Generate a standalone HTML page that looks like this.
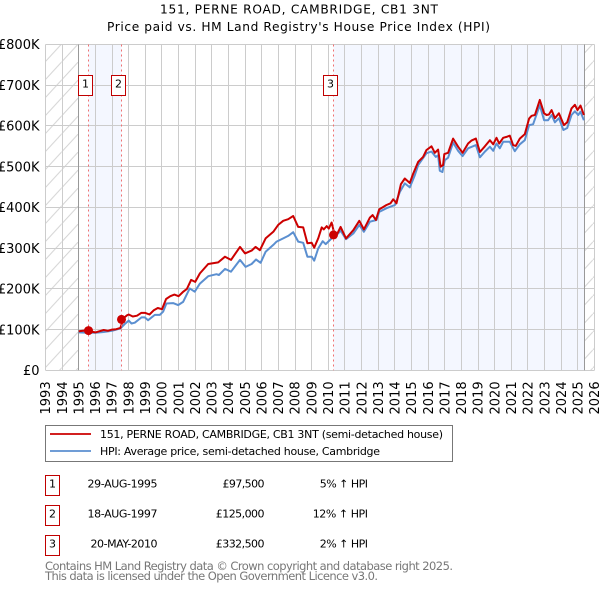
<!DOCTYPE html>
<html lang="en">
<head>
<meta charset="utf-8">
<title>151, Perne Road, Cambridge - Price paid vs. HPI</title>
<style>
html,body{margin:0;padding:0;background:#fff;}
body{width:600px;height:590px;overflow:hidden;}
svg{display:block;font-family:"DejaVu Sans",sans-serif;}
text{fill:#000;}
</style>
</head>
<body>
<svg id="chart" xmlns="http://www.w3.org/2000/svg" width="600" height="590" viewBox="0 0 600 590">
  <defs>
    <pattern id="hatch" patternUnits="userSpaceOnUse" x="45" y="44" width="16.6" height="18">
      <line x1="0" y1="18" x2="16.6" y2="0" stroke="#d4d4d4" stroke-width="1"/>
    </pattern>
  </defs>
  <g id="backgrounds"></g>
  <g id="grid"></g>
  <g id="series"></g>
  <g id="markers"></g>
  <g id="axes"></g>

  <text x="160" y="13.5" font-size="12.2" textLength="278">151, PERNE ROAD, CAMBRIDGE, CB1 3NT</text>
  <text x="107" y="31" font-size="12.2" textLength="383">Price paid vs. HM Land Registry's House Price Index (HPI)</text>

  <g>
    <rect x="45.5" y="425.5" width="407" height="36" fill="#fff" stroke="#777" stroke-width="1"/>
    <line x1="50" y1="434" x2="91" y2="434" stroke="#cc0000" stroke-width="1.8"/>
    <text x="100" y="438" font-size="11" textLength="343">151, PERNE ROAD, CAMBRIDGE, CB1 3NT (semi-detached house)</text>
    <line x1="50" y1="451" x2="91" y2="451" stroke="#5b8fd0" stroke-width="1.8"/>
    <text x="100" y="455" font-size="11" textLength="280">HPI: Average price, semi-detached house, Cambridge</text>
  </g>

  <g font-size="11">
    <g>
      <rect x="45.5" y="475.5" width="14" height="20" fill="#fff" stroke="#c00000"/>
      <text x="52.5" y="487.5" text-anchor="middle">1</text>
      <text x="157.5" y="487.5" text-anchor="end" textLength="70">29-AUG-1995</text>
      <text x="264.5" y="487.5" text-anchor="end" textLength="42">£97,500</text>
      <text x="368" y="487.5" text-anchor="end" textLength="48.3">5% ↑ HPI</text>
    </g>
    <g>
      <rect x="45.5" y="505.5" width="14" height="20" fill="#fff" stroke="#c00000"/>
      <text x="52.5" y="517.5" text-anchor="middle">2</text>
      <text x="157.5" y="517.5" text-anchor="end" textLength="70">18-AUG-1997</text>
      <text x="264.5" y="517.5" text-anchor="end" textLength="48.7">£125,000</text>
      <text x="368" y="517.5" text-anchor="end" textLength="55.3">12% ↑ HPI</text>
    </g>
    <g>
      <rect x="45.5" y="535.5" width="14" height="20" fill="#fff" stroke="#c00000"/>
      <text x="52.5" y="547.5" text-anchor="middle">3</text>
      <text x="157.5" y="547.5" text-anchor="end" textLength="67">20-MAY-2010</text>
      <text x="264.5" y="547.5" text-anchor="end" textLength="48.7">£332,500</text>
      <text x="368" y="547.5" text-anchor="end" textLength="48.3">2% ↑ HPI</text>
    </g>
  </g>

  <text x="45" y="570" font-size="11.5" style="fill:#777" textLength="408">Contains HM Land Registry data © Crown copyright and database right 2025.</text>
  <text x="45" y="580" font-size="11.5" style="fill:#777" textLength="333">This data is licensed under the Open Government Licence v3.0.</text>
</svg>
<script>
const yearTicks = [1993,1994,1995,1996,1997,1998,1999,2000,2001,2002,2003,2004,2005,2006,2007,2008,2009,2010,2011,2012,2013,2014,2015,2016,2017,2018,2019,2020,2021,2022,2023,2024,2025,2026];
const priceTicks = [0,100,200,300,400,500,600,700,800];
const priceTickLabels = ['£0','£100K','£200K','£300K','£400K','£500K','£600K','£700K','£800K'];

const priceDates = [1995,1995.25,1995.5,1995.75,1996,1996.25,1996.5,1996.75,1997,1997.25,1997.5,1997.63,1997.75,1997.9,1998,1998.25,1998.5,1998.75,1999,1999.25,1999.5,1999.75,2000,2000.25,2000.5,2000.75,2001,2001.25,2001.5,2001.75,2002,2002.28,2002.78,2003.38,2003.79,2004.15,2004.69,2004.99,2005.39,2005.63,2005.89,2006.23,2006.69,2006.99,2007.29,2007.59,2007.89,2008.19,2008.49,2008.74,2009,2009.15,2009.39,2009.6,2009.73,2009.9,2010.03,2010.2,2010.38,2010.5,2010.74,2011.06,2011.5,2011.86,2012.14,2012.5,2012.66,2012.86,2013.06,2013.5,2013.74,2013.9,2014.1,2014.36,2014.6,2014.9,2015.1,2015.4,2015.7,2015.9,2016.2,2016.4,2016.6,2016.75,2016.9,2016.97,2017.2,2017.5,2017.8,2018.07,2018.4,2018.6,2018.87,2019.11,2019.41,2019.71,2019.91,2020.11,2020.27,2020.51,2020.71,2020.91,2021.11,2021.27,2021.51,2021.81,2022.07,2022.22,2022.42,2022.71,2022.97,2023.12,2023.26,2023.42,2023.62,2023.86,2024.16,2024.36,2024.62,2024.82,2024.98,2025.16,2025.36];
const priceValues = [96,97,98,95,93,96,99,97,100,101,104,120,130,135,137,132,134,141,141,137,147,153,150,175,182,186,182,192,200,222,217,238,261,265,279,271,303,287,294,303,295,324,340,357,367,371,379,352,351,312,313,301,324,351,346,354,348,363,333,332,352,324,344,367,346,375,381,369,395,406,410,420,410,457,471,460,483,512,524,541,550,534,542,500,504,531,534,569,549,534,557,564,569,536,550,565,555,571,557,571,573,576,553,551,569,580,618,625,627,664,631,627,628,639,619,631,602,609,643,652,639,650,627];

const hpiDates = [1995,1995.5,1996,1996.5,1997,1997.5,1997.75,1998,1998.17,1998.37,1998.77,1998.97,1999.17,1999.57,1999.87,2000.07,2000.27,2000.67,2000.97,2001.27,2001.67,2001.97,2002.28,2002.78,2003.28,2003.42,2003.79,2004.15,2004.69,2005.03,2005.39,2005.65,2005.93,2006.23,2006.69,2006.89,2007.29,2007.59,2007.89,2008.19,2008.49,2008.74,2009,2009.15,2009.39,2009.66,2009.84,2010.2,2010.5,2010.74,2011.06,2011.5,2011.86,2012.14,2012.5,2012.9,2013.06,2013.5,2014,2014.3,2014.6,2014.9,2015.2,2015.4,2015.9,2016.2,2016.46,2016.6,2016.7,2016.86,2017,2017.2,2017.5,2017.8,2018.07,2018.4,2018.87,2019.11,2019.41,2019.71,2019.91,2020.11,2020.31,2020.51,2020.91,2021.21,2021.51,2021.81,2022.07,2022.31,2022.71,2022.97,2023.21,2023.42,2023.62,2023.86,2024.13,2024.36,2024.62,2024.82,2025.02,2025.16,2025.36];
const hpiValues = [93,92,92,94,97,103,113,122,115,117,130,130,123,136,136,144,164,165,160,168,201,193,213,231,236,234,249,242,271,254,261,272,264,291,308,316,324,330,339,316,313,279,279,269,299,317,310,324,332,343,322,336,357,340,365,369,389,398,406,438,459,449,479,504,533,537,524,528,490,487,516,522,559,539,526,545,553,523,537,549,539,557,545,561,561,538,555,565,602,604,651,614,614,627,609,619,590,595,627,636,627,635,614];

const saleDates = [1995.66,1997.63,2010.38];
const salePrices = [97.5,125,332.5];
const saleLabels = ['1','2','3'];

const dataStart = 1995;
const dataEnd = 2025.4;

const plotLeft = 45.5, plotRight = 594.5, plotTop = 44.5, plotBottom = 370.3;
const xMin = 1993, xMax = 2026, yMin = 0, yMax = 800;
function xScale(year){ return plotLeft + (year - xMin) / (xMax - xMin) * (plotRight - plotLeft); }
function yScale(value){ return plotBottom - (value - yMin) / (yMax - yMin) * (plotBottom - plotTop); }
function snap(v){ return Math.round(v - 0.5) + 0.5; }
function saleX(date){ return Math.floor(xScale(date) - 1) + 0.5; }

const NS = 'http://www.w3.org/2000/svg';
function make(parent, tag, attrs, text){
  const el = document.createElementNS(NS, tag);
  for (const k in attrs) el.setAttribute(k, attrs[k]);
  if (text !== undefined) el.textContent = text;
  parent.appendChild(el);
  return el;
}

const bg = document.getElementById('backgrounds');
const grid = document.getElementById('grid');
const series = document.getElementById('series');
const markers = document.getElementById('markers');
const axes = document.getElementById('axes');

/* backgrounds */
const hatchLeft = make(bg, 'rect', {x: plotLeft, y: plotTop, width: xScale(dataStart) - plotLeft, height: plotBottom - plotTop, fill: 'url(#hatch)'});


const hatchRight = make(bg, 'rect', {x: xScale(dataEnd), y: plotTop, width: plotRight - xScale(dataEnd), height: plotBottom - plotTop, fill: 'url(#hatch)'});


const band1 = make(bg, 'rect', {x: saleX(saleDates[0]), y: plotTop, width: saleX(saleDates[1]) - saleX(saleDates[0]), height: plotBottom - plotTop, fill: '#f4f7ff'});


const band2 = make(bg, 'rect', {x: saleX(saleDates[2]), y: plotTop, width: xScale(dataEnd) - saleX(saleDates[2]), height: plotBottom - plotTop, fill: '#f4f7ff'});



/* grid + tick labels */
yearTicks.forEach(function(year){
  const x = snap(xScale(year));
  const line = make(grid, 'line', {x1: x, y1: plotTop, x2: x, y2: plotBottom, stroke: '#cccccc', 'stroke-width': 1});
  
  
  const label = make(axes, 'text', {x: 0, y: 0, 'font-size': 13, 'text-anchor': 'start', transform: 'translate(' + (xScale(year) + 4.7) + ',381.5) rotate(-90) translate(-33,0)'}, String(year));
  
  
});
priceTicks.forEach(function(value, i){
  const y = snap(yScale(value));
  const line = make(grid, 'line', {x1: plotLeft, y1: y, x2: plotRight, y2: y, stroke: '#cccccc', 'stroke-width': 1});
  
  
  const label = make(axes, 'text', {x: 39.5, y: yScale(value) + 4.7, 'font-size': 13, 'text-anchor': 'end'}, priceTickLabels[i]);
  
  
});

/* data range limits */
[dataStart, dataEnd].forEach(function(year){
  const x = snap(xScale(year));
  const limit = make(grid, 'line', {x1: x, y1: plotTop, x2: x, y2: plotBottom, stroke: '#999999', 'stroke-width': 1});
  
  
});

/* series */
function linePoints(dates, values){
  return dates.map(function(d, i){ return xScale(d).toFixed(1) + ',' + yScale(values[i]).toFixed(1); }).join(' ');
}
const hpiLine = make(series, 'polyline', {points: linePoints(hpiDates, hpiValues), fill: 'none', stroke: '#5b8fd0', 'stroke-width': 2, 'stroke-linejoin': 'round'});


const priceLine = make(series, 'polyline', {points: linePoints(priceDates, priceValues), fill: 'none', stroke: '#cc0000', 'stroke-width': 2, 'stroke-linejoin': 'round'});



/* sale markers */
saleDates.forEach(function(date, i){
  const x = saleX(date);
  const rule = make(markers, 'line', {x1: x, y1: plotTop, x2: x, y2: plotBottom, stroke: '#f07070', 'stroke-width': 1, 'stroke-dasharray': '2,3'});
  
  
  const dot = make(markers, 'circle', {cx: x, cy: yScale(salePrices[i]), r: 4.5, fill: '#cc0000'});
  
  
  const box = make(markers, 'rect', {x: x - 10, y: 75.5, width: 14, height: 20, fill: '#ffffff', stroke: '#c00000', 'stroke-width': 1});
  
  
  const num = make(markers, 'text', {x: x - 3, y: 87.5, 'font-size': 11, 'text-anchor': 'middle'}, saleLabels[i]);
  
  
});
</script>
</body>
</html>
